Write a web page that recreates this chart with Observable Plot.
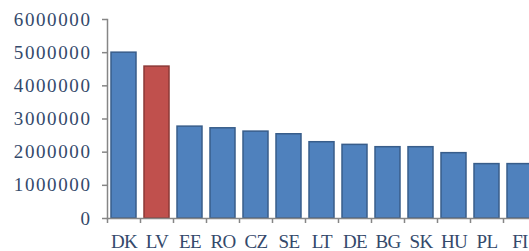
<!DOCTYPE html>
<html><head><meta charset="utf-8">
<script src="https://cdn.jsdelivr.net/npm/d3@7"></script>
<script src="https://cdn.jsdelivr.net/npm/@observablehq/plot@0.6"></script>
<style>
html,body{margin:0;padding:0;background:#fff;overflow:hidden;}
.yax text{letter-spacing:1.6px;}
.xax text{letter-spacing:-0.6px;}
</style>
</head><body><div id="chart"></div>
<script>
const countries = ["DK","LV","EE","RO","CZ","SE","LT","DE","BG","SK","HU","PL","FI"];
const values = [5000000,4580000,2770000,2720000,2620000,2540000,2300000,2220000,2150000,2150000,1970000,1640000,1640000];
const highlight = ["LV"];
const yTicks = [0,1000000,2000000,3000000,4000000,5000000,6000000];

const data = countries.map((c,i)=>({country:c, value:values[i]}));
const textColor = "#34496b";
const axisColor = "#868686";

const chart = Plot.plot({
  width: 536, height: 251,
  marginLeft: 107, marginRight: 0, marginTop: 19, marginBottom: 33,
  style: {fontFamily: "'Liberation Serif', 'Times New Roman', serif", background: "#fff", maxWidth: "none"},
  x: {domain: countries, paddingInner: 0.24, paddingOuter: 0.12, label: null},
  y: {domain: [0, 6000000], label: null},
  marks: [
    Plot.barY(data, {x: "country", y: "value",
      fill: d => highlight.includes(d.country) ? "#c0504d" : "#4f81bd",
      stroke: d => highlight.includes(d.country) ? "#8c3836" : "#385d8a",
      strokeWidth: 1.5}),
    Plot.frame({anchor: "left", stroke: axisColor, strokeWidth: 1.5}),
    Plot.frame({anchor: "bottom", stroke: axisColor, strokeWidth: 1.5}),
    Plot.axisX({tickSize: 5, dx: -16.5, tickFormat: () => "", stroke: axisColor, strokeWidth: 1.5, label: null}),
    Plot.axisY({ticks: yTicks, tickFormat: d => String(d), tickSize: 5, tickPadding: 11, stroke: axisColor, strokeWidth: 1.5,
      fontSize: 19, fill: textColor, className: "yax", label: null}),
    Plot.axisX({tickSize: 0, tickPadding: 16, fontSize: 19, fill: textColor, className: "xax", label: null})
  ]
});
document.getElementById("chart").appendChild(chart);
</script>
</body></html>
